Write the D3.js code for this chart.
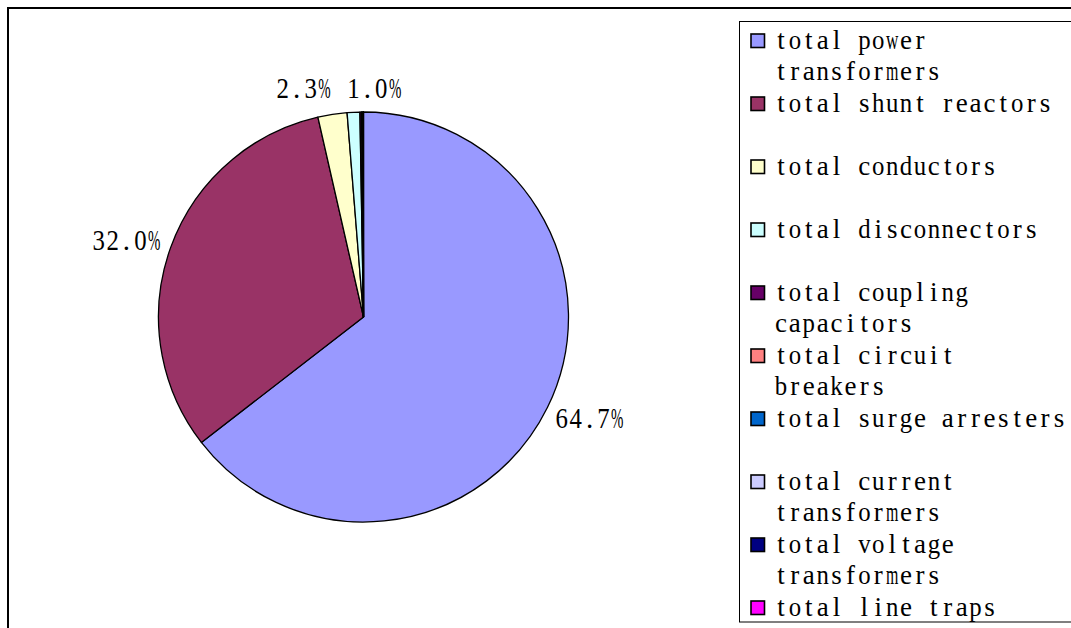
<!DOCTYPE html>
<html>
<head>
<meta charset="utf-8">
<script src="https://cdn.jsdelivr.net/npm/d3@7/dist/d3.min.js"></script>
<style>
  html, body { margin: 0; padding: 0; background: #fff; }
  svg { display: block; }
</style>
</head>
<body>
<svg id="chart" width="1071" height="628"></svg>
<script>
// Equipment categories, share of total (%) and slice colours
const categories = [
  "total power transformers",
  "total shunt reactors",
  "total conductors",
  "total disconnectors",
  "total coupling capacitors",
  "total circuit breakers",
  "total surge arresters",
  "total current transformers",
  "total voltage transformers",
  "total line traps"
];
const shares = [64.7, 32.0, 2.3, 1.0, 0.12, 0.12, 0.01, 0.01, 0.01, 0.01];
// Only these slices carry a percentage label
const labelled = [true, true, true, true, false, false, false, false, false, false];
const colors = [
  "#9999FF", "#993366", "#FFFFCC", "#CCFFFF", "#660066",
  "#FF8080", "#0066CC", "#CCCCFF", "#000080", "#FF00FF"
];

const svg = d3.select("#chart");
const FONT = "'Liberation Serif', 'Times New Roman', serif";
const CHAR_W = 13.9;    // fixed per-character cell width
const MAX_GLYPH = 12.4; // widest glyph allowed inside a cell

// Draws a string as fixed-width cells, one glyph centred in each cell;
// glyphs wider than a cell are narrowed horizontally.
function monoText(parent, str, x0, y, size, cls) {
  const grp = parent.append("g").attr("class", cls);
  str.split("").forEach((ch, k) => {
    if (ch === " ") return;
    const cxCell = x0 + (k + 0.5) * CHAR_W;
    const t = grp.append("text")
      .attr("x", 0)
      .attr("y", 0)
      .attr("text-anchor", "middle")
      .attr("font-family", FONT)
      .attr("font-size", size)
      .attr("fill", "#000")
      .text(ch);
    const w = t.node().getComputedTextLength();
    const s = w > MAX_GLYPH ? MAX_GLYPH / w : 1;
    t.attr("transform", `translate(${cxCell},${y}) scale(${s},1)`);
  });
  return grp;
}

// Outer chart frame
svg.append("rect")
  .attr("x", 8).attr("y", 8)
  .attr("width", 1200).attr("height", 1000)
  .attr("fill", "none").attr("stroke", "#000").attr("stroke-width", 2);

// ---- Pie ----
const cx = 363.5, cy = 317, r = 205;
const pie = d3.pie().sort(null).value(d => d.v);
const data = categories.map((c, i) => ({ c, v: shares[i], i }));
const arcs = pie(data);
const arc = d3.arc().innerRadius(0).outerRadius(r);

const g = svg.append("g").attr("transform", `translate(${cx},${cy})`);
g.selectAll("path.slice")
  .data(arcs)
  .join("path")
  .attr("class", "slice")
  .attr("d", arc)
  .attr("fill", d => colors[d.data.i])
  .attr("stroke", "#000")
  .attr("stroke-width", 1.3)
  .attr("stroke-linejoin", "round");

// ---- Percentage labels, placed just outside each slice ----
const fmt = d3.format(".1f");
let labels = arcs.filter(d => labelled[d.data.i]).map(d => {
  const a = (d.startAngle + d.endAngle) / 2;
  const dx = Math.sin(a), dy = -Math.cos(a);
  const text = fmt(d.data.v) + "%";
  const w = text.length * CHAR_W;
  const gap = 12;
  return {
    text, w,
    x: cx + dx * (r + gap) + dx * w / 2,
    y: cy + dy * (r + gap) + dy * 12
  };
});

// Resolve horizontal overlaps between neighbouring labels
labels.sort((a, b) => a.x - b.x);
for (let iter = 0; iter < 20; iter++) {
  for (let k = 1; k < labels.length; k++) {
    const A = labels[k - 1], B = labels[k];
    const need = (A.w + B.w) / 2 + 15;
    if (Math.abs(A.y - B.y) < 26 && B.x - A.x < need) {
      const mid = (A.x + B.x) / 2;
      A.x = mid - need / 2; B.x = mid + need / 2;
      const y = Math.min(A.y, B.y);
      A.y = y; B.y = y;
    }
  }
}

const pctLayer = svg.append("g").attr("class", "pct-labels");
labels.forEach(l => {
  monoText(pctLayer, l.text, l.x - l.w / 2, l.y + 10, 29, "pct");
});

// ---- Legend ----
const legX = 739.5, legY = 21.5, legH = 600.5;
svg.append("rect")
  .attr("x", legX).attr("y", legY)
  .attr("width", 400).attr("height", legH)
  .attr("fill", "#fff").attr("stroke", "#000").attr("stroke-width", 1);

const MAX_CHARS = 21;
function wrap(label) {
  const words = label.split(" ");
  const lines = [];
  let cur = "";
  words.forEach(w => {
    const t = cur ? cur + " " + w : w;
    if (t.length > MAX_CHARS && cur) { lines.push(cur); cur = w; }
    else cur = t;
  });
  if (cur) lines.push(cur);
  return lines;
}

const itemStep = 63, lineStep = 31.5, firstBase = 48.5;
const items = svg.append("g").selectAll("g.item")
  .data(categories)
  .join("g")
  .attr("class", "item")
  .attr("transform", (d, i) => `translate(0,${firstBase + i * itemStep})`);

items.append("rect")
  .attr("x", 751).attr("y", -14.5)
  .attr("width", 13.5).attr("height", 13.5)
  .attr("fill", (d, i) => colors[i])
  .attr("stroke", "#000").attr("stroke-width", 1.6);

items.each(function (d) {
  const sel = d3.select(this);
  wrap(d).forEach((line, j) => {
    monoText(sel, line, 774, j * lineStep, 27, "legend-line");
  });
});
</script>
</body>
</html>
